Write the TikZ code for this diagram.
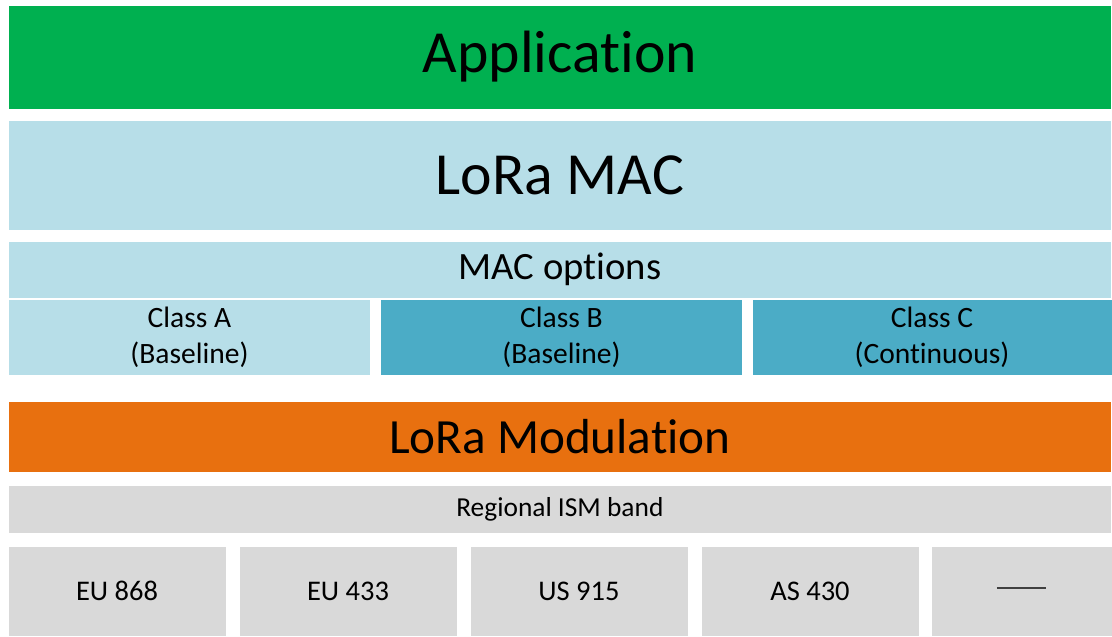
\documentclass[tikz,border=0pt]{standalone}
\usepackage{fontspec}
\setmainfont{Carlito}[Ligatures={NoCommon}]
\definecolor{appgreen}{HTML}{00B050}
\definecolor{maclight}{HTML}{B7DEE8}
\definecolor{macdark}{HTML}{4BACC6}
\definecolor{modorange}{HTML}{E8700F}
\definecolor{bandgray}{HTML}{D9D9D9}
\definecolor{dashgray}{HTML}{404040}
\begin{document}
\begin{tikzpicture}[x=0.02cm,y=-0.02cm]
	\tikzset{layer/.style={rectangle, anchor=north west, inner sep=0pt, outer sep=0pt,
				draw=white, line width=0.5pt, align=center, text=black},
			wide/.style={layer, minimum width=22.08cm},
			cls/.style={layer, minimum width=7.26cm, minimum height=1.52cm,
				font=\fontsize{16.8}{20.6}\selectfont},
			region/.style={layer, fill=bandgray, minimum width=4.36cm, minimum height=1.8cm,
				font=\fontsize{16.2}{19.8}\selectfont}}
	\useasboundingbox (0,0) rectangle (1112,636);
	\node[wide, fill=appgreen, minimum height=2.08cm, font=\fontsize{34}{41}\selectfont] (app) at (8,5) {Application};
	\node[wide, fill=maclight, minimum height=2.2cm, font=\fontsize{34}{41}\selectfont] (mac) at (8,120) {LoRa MAC};
	\node[wide, fill=maclight, minimum height=1.14cm, font=\fontsize{22}{27}\selectfont] (opts) at (8,241) {MAC options};
	\node[cls, fill=maclight] (clsA) at (8,299) {Class A\\(Baseline)};
	\node[cls, fill=macdark] (clsB) at (380,299) {Class B\\(Baseline)};
	\node[cls, fill=macdark, minimum width=7.2cm] (clsC) at (752,299) {Class C\\(Continuous)};
	\node[wide, fill=modorange, minimum height=1.42cm, font=\fontsize{28}{34}\selectfont] (mod) at (8,401) {LoRa Modulation};
	\node[wide, fill=bandgray, minimum height=0.96cm, font=\fontsize{15.6}{19}\selectfont] (band) at (8,485) {Regional ISM band};
	\node[region] (eu868) at (8,546) {EU 868};
	\node[region] (eu433) at (239,546) {EU 433};
	\node[region] (us915) at (470,546) {US 915};
	\node[region] (as430) at (701,546) {AS 430};
	\node[region, minimum width=3.62cm] (more) at (931,546) {\textcolor{dashgray}{\rule[0.12cm]{0.98cm}{0.04cm}}};
\end{tikzpicture}
\end{document}
